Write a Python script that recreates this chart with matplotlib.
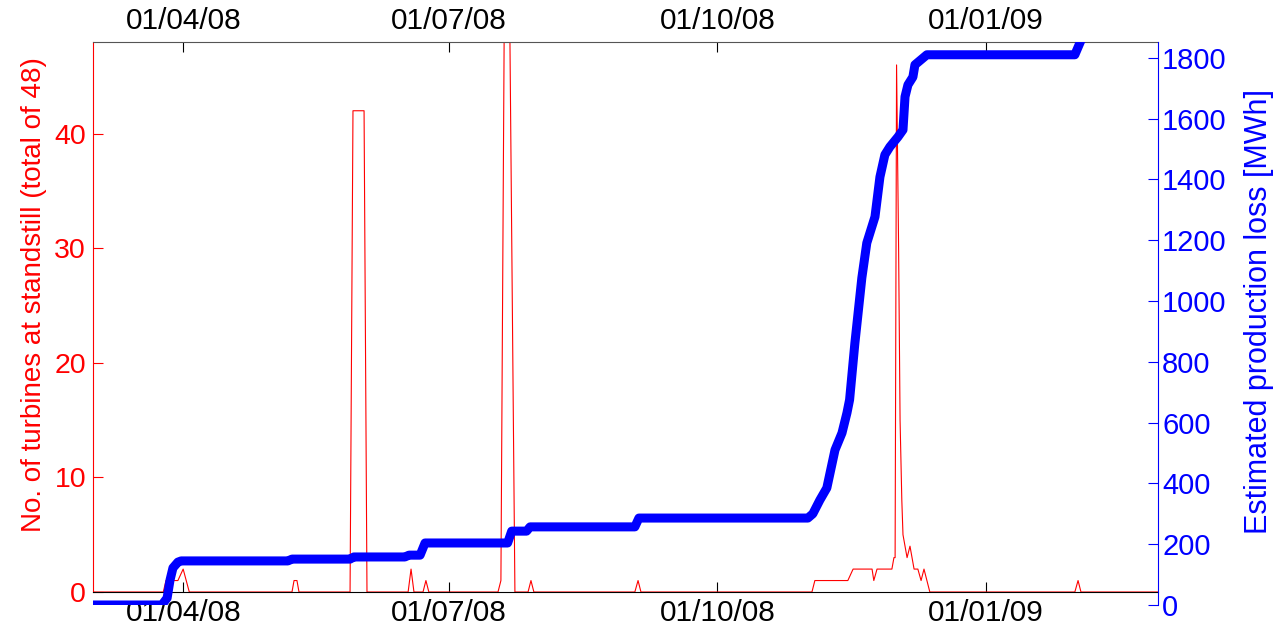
import numpy as np
import matplotlib
matplotlib.use('Agg')
import matplotlib.pyplot as plt
import matplotlib.dates as mdates

plt.rcParams['font.family'] = ['Liberation Sans', 'DejaVu Sans']

start = np.datetime64('2008-03-01T00:00')
end = np.datetime64('2009-03-01T00:00')

# turbines at standstill (days since 1 Mar 2008, count)
red_day = [0, 24.1, 25.0, 29.1, 30.9, 33.0, 68.2, 68.9, 69.9, 70.6,
           88.1, 89.1, 92.9, 93.9, 108.0, 109.0, 110.0, 113.1, 114.1, 115.1,
           138.8, 139.8, 140.9, 142.9, 144.6, 149.1, 150.1, 151.1,
           185.7, 186.8, 187.8, 246.4, 247.4, 258.7, 260.5, 267.0, 267.6, 268.7,
           273.8, 274.5, 274.9, 275.4, 276.1, 276.6, 277.2, 277.6, 279.0, 280.0,
           281.4, 282.7, 283.8, 284.8, 286.8, 336.5, 337.6, 338.6, 365]
red_val = [0, 0, 1, 1, 2, 0, 0, 1, 1, 0,
           0, 42, 42, 0, 0, 2, 0, 0, 1, 0,
           0, 1, 48, 48, 0, 0, 1, 0,
           0, 1, 0, 0, 1, 1, 2, 2, 1, 2,
           2, 3, 3, 46, 30, 15, 8, 5, 3, 4,
           2, 2, 1, 2, 0, 0, 1, 0, 0]

# estimated production loss (days since 1 Mar 2008, MWh)
blue_day = [0, 23.6, 25.4, 26.4, 27.4, 29.1, 30.2, 66.8, 68.2, 88.1, 89.4,
            106.9, 108.3, 112.1, 113.8, 142.1, 143.5, 148.6, 149.8, 185.7, 187.1,
            245.0, 246.7, 249.1, 251.5, 254.3, 256.7, 258.4, 259.3, 261.1, 263.5,
            265.2, 268.0, 269.7, 271.4, 273.1, 275.9, 277.6, 278.3, 279.3, 281.0,
            281.7, 285.8, 336.5, 340.5, 345]
blue_val = [0, 0, 23, 82, 122, 141, 145, 145, 151, 151, 158,
            158, 164, 164, 204, 204, 243, 243, 257, 257, 286,
            286, 300, 345, 385, 510, 566, 632, 675, 860, 1076,
            1191, 1277, 1408, 1481, 1507, 1540, 1563, 1672, 1711, 1737,
            1777, 1810, 1810, 1900, 1950]


def to_dates(days):
    return start + (np.array(days) * 86400).astype('timedelta64[s]')


W, H = 1281, 635
fig = plt.figure(figsize=(W / 100, H / 100), dpi=100)
x0, x1 = 93, 1158
ax1 = fig.add_axes([x0 / W, (H - 592) / H, (x1 - x0) / W, (592 - 42) / H])
ax2 = fig.add_axes([x0 / W, (H - 605) / H, (x1 - x0) / W, (605 - 42) / H])
ax2.patch.set_visible(False)

ax1.plot(to_dates(red_day), red_val, color='red', lw=0.8)
ax1.set_xlim(start, end)
ax1.set_ylim(0, 48)
ax1.set_yticks([0, 10, 20, 30, 40])
ax1.xaxis.set_major_locator(mdates.MonthLocator(bymonth=[1, 4, 7, 10]))
ax1.xaxis.set_major_formatter(mdates.DateFormatter('%d/%m/%y'))
ax1.tick_params(axis='x', direction='in', length=7, width=0.8, top=True,
                labeltop=True, labelsize=21.5, pad=5, colors='black')
ax1.tick_params(axis='y', direction='in', length=7, width=0.8, colors='red',
                labelsize=20.5, pad=5)
ax1.spines['right'].set_visible(False)
ax1.spines['left'].set_color('red')
ax1.spines['bottom'].set_color('black')
ax1.spines['top'].set_color('#555555')
ax1.set_ylabel('No. of turbines at standstill (total of 48)', color='red', fontsize=20)
ax1.yaxis.set_label_coords((47 - x0) / (x1 - x0), (592 - 295) / 550)

ax2.plot(to_dates(blue_day), blue_val, color='blue', lw=6.5,
         solid_capstyle='round', solid_joinstyle='round')
ax2.set_xlim(start, end)
ax2.set_ylim(0, 1852)
ax2.set_yticks(range(0, 1801, 200))
ax2.yaxis.tick_right()
ax2.yaxis.set_label_position('right')
ax2.tick_params(axis='y', direction='in', length=7, width=0.8, colors='blue',
                labelsize=21, pad=3)
ax2.set_xticks([])
for s in ['left', 'top', 'bottom']:
    ax2.spines[s].set_visible(False)
ax2.spines['right'].set_color('blue')
ax2.set_ylabel('Estimated production loss [MWh]', color='blue', fontsize=22)
ax2.yaxis.set_label_coords((1244 - x0) / (x1 - x0), (605 - 312) / 563)

fig.savefig('out.png', dpi=100)
